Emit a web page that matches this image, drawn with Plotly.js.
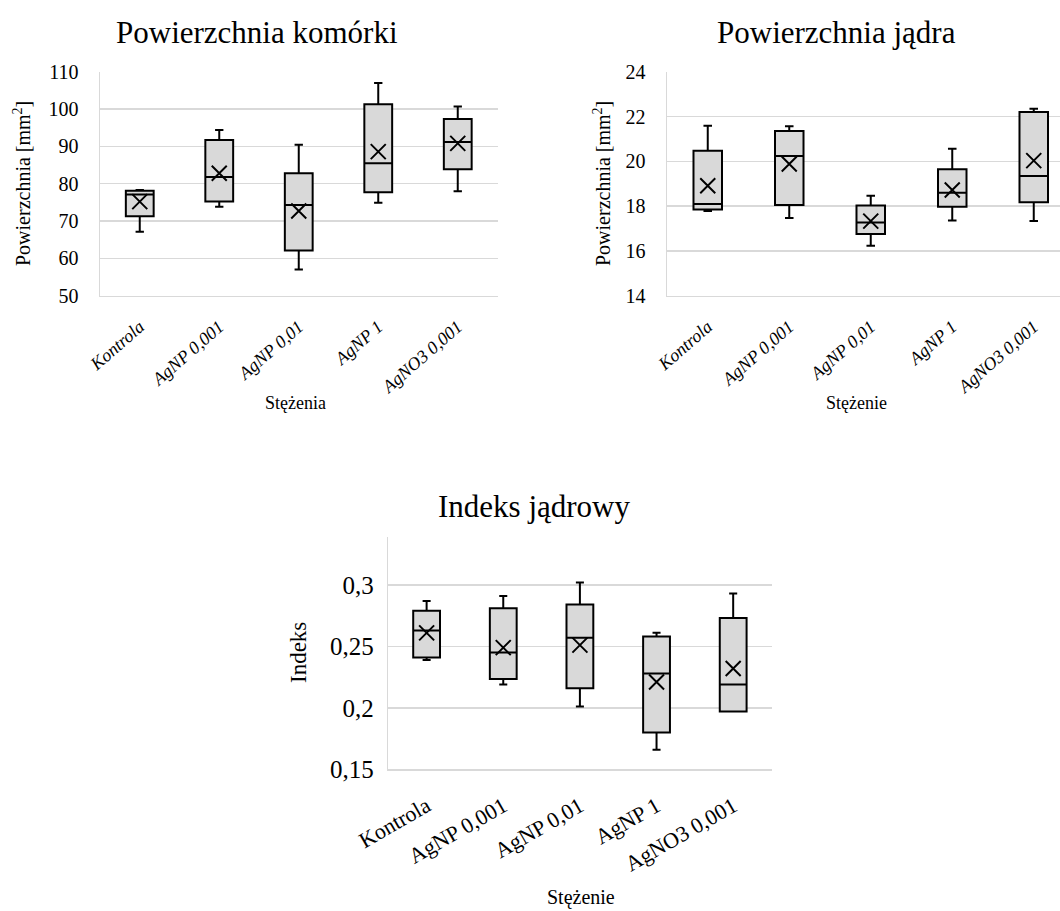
<!DOCTYPE html>
<html>
<head>
<meta charset="utf-8">
<script src="https://cdn.plot.ly/plotly-3.0.1.min.js"></script>
<style>
  html, body { margin: 0; padding: 0; background: #ffffff; overflow: hidden; }
  #chart { width: 1080px; height: 911px; }
</style>
</head>
<body>
<div id="chart"></div>
<script>
// Treatment groups shared by all three panels
const categories = ['Kontrola', 'AgNP 0,001', 'AgNP 0,01', 'AgNP 1', 'AgNO3 0,001'];

// Cell area [mm²]
const cellMin    = [67.1, 73.8, 57.0, 74.9, 78.0];
const cellQ1     = [71.3, 75.2, 62.1, 77.7, 83.9];
const cellMedian = [77.1, 81.8, 74.3, 85.5, 91.2];
const cellQ3     = [78.1, 91.7, 82.8, 101.3, 97.3];
const cellMax    = [78.3, 94.4, 90.4, 107.0, 100.7];
const cellMean   = [75.2, 82.8, 72.7, 88.6, 90.8];

// Nucleus area [mm²]
const nucMin    = [17.78, 17.47, 16.23, 17.36, 17.33];
const nucQ1     = [17.85, 18.05, 16.75, 17.97, 18.17];
const nucMedian = [18.09, 20.24, 17.27, 18.60, 19.34];
const nucQ3     = [20.47, 21.35, 18.03, 19.64, 22.20];
const nucMax    = [21.59, 21.57, 18.46, 20.56, 22.35];
const nucMean   = [18.91, 19.88, 17.33, 18.72, 20.03];

// Nuclear index
const idxMin    = [0.239, 0.219, 0.201, 0.166, 0.197];
const idxQ1     = [0.241, 0.2235, 0.216, 0.180, 0.197];
const idxMedian = [0.263, 0.245, 0.257, 0.228, 0.219];
const idxQ3     = [0.279, 0.281, 0.284, 0.258, 0.273];
const idxMax    = [0.287, 0.291, 0.302, 0.261, 0.293];
const idxMean   = [0.261, 0.249, 0.251, 0.221, 0.232];

const W = 1080, H = 911;
const px = v => v / W;
const py = v => 1 - v / H;

const FONT = 'Times New Roman, Liberation Serif, DejaVu Serif, serif';
const GRID = '#d9d9d9';

function boxTrace(q1, med, q3, lo, hi, xa, ya) {
  return {
    type: 'box', x: categories,
    q1: q1, median: med, q3: q3, lowerfence: lo, upperfence: hi,
    xaxis: xa, yaxis: ya,
    fillcolor: '#d9d9d9',
    line: { color: '#000000', width: 2 },
    whiskerwidth: 0.3,
    boxpoints: false,
    showlegend: false
  };
}
function meanTrace(mean, xa, ya) {
  return {
    type: 'scatter', mode: 'markers', x: categories, y: mean,
    xaxis: xa, yaxis: ya,
    marker: { symbol: 'x-thin-open', size: 15, color: '#000000',
              line: { color: '#000000', width: 2 } },
    showlegend: false
  };
}

const data = [
  boxTrace(cellQ1, cellMedian, cellQ3, cellMin, cellMax, 'x', 'y'),
  meanTrace(cellMean, 'x', 'y'),
  boxTrace(nucQ1, nucMedian, nucQ3, nucMin, nucMax, 'x2', 'y2'),
  meanTrace(nucMean, 'x2', 'y2'),
  boxTrace(idxQ1, idxMedian, idxQ3, idxMin, idxMax, 'x3', 'y3'),
  meanTrace(idxMean, 'x3', 'y3')
];

function xAxis(domain, anchor, size, italic, standoff, angle) {
  return {
    domain: domain, anchor: anchor, type: 'category',
    showgrid: false, showline: true, linecolor: GRID, linewidth: 1.5,
    ticks: '', tickangle: angle, ticklabelstandoff: standoff,
    tickfont: { family: FONT, size: size, color: '#000', style: italic ? 'italic' : 'normal' },
    fixedrange: true
  };
}
function yAxis(domain, anchor, range, dtick, size, standoff) {
  return {
    domain: domain, anchor: anchor, range: range, dtick: dtick,
    showgrid: true, gridcolor: GRID, gridwidth: 1.5,
    showline: true, linecolor: GRID, linewidth: 1.5,
    zeroline: false, ticks: '', ticklabelstandoff: standoff,
    tickfont: { family: FONT, size: size, color: '#000' },
    fixedrange: true
  };
}

function label(text, x, y, size, angle) {
  return {
    text: text, xref: 'paper', yref: 'paper', x: px(x), y: py(y),
    xanchor: 'center', yanchor: 'middle', showarrow: false,
    textangle: angle || 0,
    font: { family: FONT, size: size, color: '#000' }
  };
}

const layout = {
  width: W, height: H,
  margin: { l: 0, r: 0, t: 0, b: 0 },
  paper_bgcolor: '#ffffff', plot_bgcolor: '#ffffff',
  font: { family: FONT, color: '#000' },
  separators: ', ',
  boxgap: 0.5,
  showlegend: false,
  xaxis:  xAxis([px(100), px(497.5)], 'y', 18, true, 12, -41),
  yaxis:  yAxis([py(295.7), py(71.7)], 'x', [50, 110], 10, 20, 16),
  xaxis2: xAxis([px(667), px(1074.5)], 'y2', 18, true, 12, -41),
  yaxis2: yAxis([py(295.7), py(71.7)], 'x2', [14, 24], 2, 20, 16),
  xaxis3: xAxis([px(388.3), px(771.5)], 'y3', 22, false, 14, -30),
  yaxis3: yAxis([py(769.3), py(537)], 'x3', [0.15, 0.339], 0.05, 25, 8),
  annotations: [
    label('Powierzchnia komórki', 257, 32, 31),
    label('Powierzchnia jądra', 836, 32, 31),
    label('Indeks jądrowy', 534, 507, 31),
    label('Powierzchnia [mm<sup>2</sup>]', 22, 184, 20, -90),
    label('Powierzchnia [mm<sup>2</sup>]', 602, 184, 20, -90),
    label('Indeks', 298, 653, 23, -90),
    label('Stężenia', 295, 403, 18),
    label('Stężenie', 856, 403, 18),
    label('Stężenie', 581, 897, 20)
  ]
};

Plotly.newPlot('chart', data, layout, { displayModeBar: false, staticPlot: true });
</script>
</body>
</html>
